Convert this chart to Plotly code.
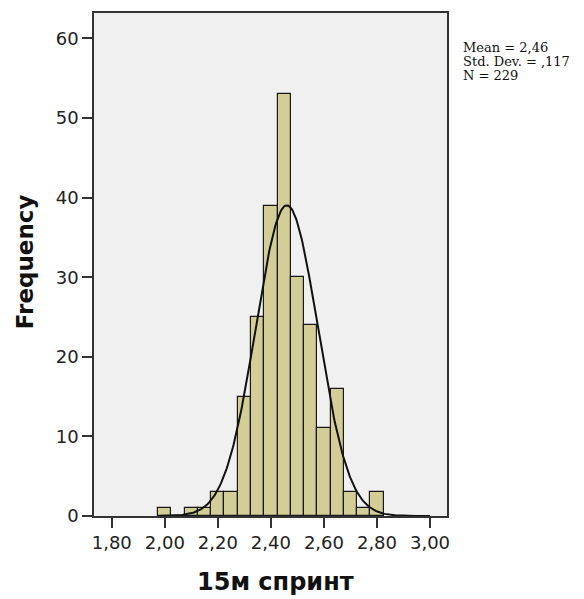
import numpy as np
import plotly.graph_objects as go

# Histogram of 15 m sprint times (bin width 0.05 s)
bin_centers = [2.00, 2.05, 2.10, 2.15, 2.20, 2.25, 2.30, 2.35, 2.40,
               2.45, 2.50, 2.55, 2.60, 2.65, 2.70, 2.75, 2.80]
counts = [1, 0, 1, 1, 3, 3, 15, 25, 39, 53, 30, 24, 11, 16, 3, 1, 3]
bin_width = 0.05

# Summary statistics
mean_val = 2.46
sd_val = 0.117
n_val = 229

x_tickvals = [1.80, 2.00, 2.20, 2.40, 2.60, 2.80, 3.00]
x_ticktext = ["1,80", "2,00", "2,20", "2,40", "2,60", "2,80", "3,00"]
y_tickvals = [0, 10, 20, 30, 40, 50, 60]

# Fitted normal curve scaled to counts per bin
xs = np.linspace(1.98, 3.0, 300)
ys = n_val * bin_width / (sd_val * np.sqrt(2 * np.pi)) * np.exp(-0.5 * ((xs - mean_val) / sd_val) ** 2)

fig = go.Figure()
fig.add_trace(go.Bar(
    x=bin_centers, y=counts, width=bin_width,
    marker=dict(color="#D3CE97", line=dict(color="#1a1a1a", width=1.2)),
    hoverinfo="x+y",
))
fig.add_trace(go.Scatter(
    x=xs, y=ys, mode="lines",
    line=dict(color="#111111", width=2),
    hoverinfo="skip",
))

tick_font = dict(family="DejaVu Sans, sans-serif", size=18, color="#222222")

fig.update_layout(
    width=584, height=599,
    margin=dict(l=94, r=137, t=13, b=83),
    paper_bgcolor="white",
    plot_bgcolor="#F0F0F0",
    showlegend=False,
    bargap=0,
    xaxis=dict(
        range=[1.733, 3.064],
        tickvals=x_tickvals, ticktext=x_ticktext,
        ticks="outside", ticklen=10, tickwidth=1.5, tickcolor="#333333",
        tickfont=tick_font,
        showgrid=False, zeroline=False,
        showline=True, linecolor="#333333", linewidth=1.5, mirror=True,
    ),
    yaxis=dict(
        range=[0, 63.2],
        tickvals=y_tickvals,
        ticks="outside", ticklen=10, tickwidth=1.5, tickcolor="#333333",
        tickfont=tick_font,
        showgrid=False, zeroline=False,
        showline=True, linecolor="#333333", linewidth=1.5, mirror=True,
    ),
)

fig.add_annotation(
    text="<b>15м спринт</b>", xref="paper", yref="paper",
    x=0.515, y=-0.132, xanchor="center", yanchor="middle",
    showarrow=False, font=dict(family="DejaVu Sans, sans-serif", size=24, color="#111111"),
)
fig.add_annotation(
    text="<b>Frequency</b>", xref="paper", yref="paper",
    x=-0.195, y=0.505, xanchor="center", yanchor="middle", textangle=-90,
    showarrow=False, font=dict(family="DejaVu Sans, sans-serif", size=23, color="#111111"),
)

stat_font = dict(family="DejaVu Serif, serif", size=13, color="#111111")
stat_lines = [
    f"Mean = {mean_val:.2f}".replace(".", ","),
    "Std. Dev. = " + f"{sd_val:.3f}".lstrip("0").replace(".", ","),
    f"N = {n_val}",
]
for i, line in enumerate(stat_lines):
    fig.add_annotation(
        text=line, xref="paper", yref="paper",
        x=1.04, y=0.932 - i * 0.028, xanchor="left", yanchor="middle",
        showarrow=False, font=stat_font,
    )

fig.write_html("out.html")
